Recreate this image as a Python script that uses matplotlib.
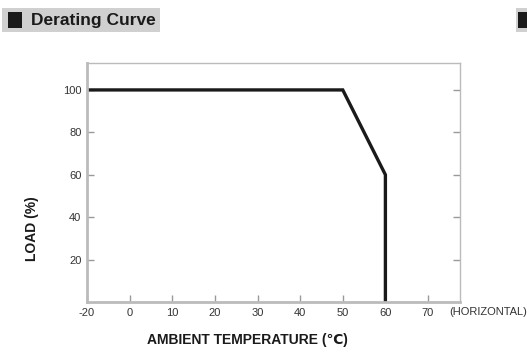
import numpy as np
import matplotlib.pyplot as plt
from matplotlib.patches import Rectangle

plt.rcParams['font.family'] = ['Liberation Sans', 'DejaVu Sans']
plt.rcParams['axes.unicode_minus'] = False

# derating curve data
temps = [-20, 50, 60, 60]
load = [100, 100, 60, 0]
x_ticks = [-20, 0, 10, 20, 30, 40, 50, 60, 70]
y_ticks = [20, 40, 60, 80, 100]


# the axis squeezes -20..0 into one 10-degree step
def fwd(x):
    x = np.asarray(x, dtype=float)
    return np.where(x < 0, x / 2, x)


def inv(x):
    x = np.asarray(x, dtype=float)
    return np.where(x < 0, x * 2, x)


fig = plt.figure(figsize=(5.27, 3.55), dpi=100)
fig.patch.set_facecolor('white')

# title bar
fig.patches.append(Rectangle((2 / 527, 1 - 32 / 355), 158 / 527, 24 / 355,
                             transform=fig.transFigure, facecolor='#d0d0d0', edgecolor='none'))
fig.patches.append(Rectangle((8 / 527, 1 - 28 / 355), 14 / 527, 16 / 355,
                             transform=fig.transFigure, facecolor='#1a1a1a', edgecolor='none'))
fig.text(31 / 527, 1 - 20 / 355, 'Derating Curve', fontsize=12.5, fontweight='bold',
         color='#1a1a1a', va='center', ha='left')

# cut-off box at right edge
fig.patches.append(Rectangle((516 / 527, 1 - 32 / 355), 11 / 527, 24 / 355,
                             transform=fig.transFigure, facecolor='#d0d0d0', edgecolor='none'))
fig.patches.append(Rectangle((518 / 527, 1 - 28 / 355), 9 / 527, 16 / 355,
                             transform=fig.transFigure, facecolor='#1a1a1a', edgecolor='none'))

ax = fig.add_axes([87 / 527, 53 / 355, 373 / 527, 239 / 355])
ax.set_xscale('function', functions=(fwd, inv))
ax.plot(temps, load, color='#1a1a1a', linewidth=2.4, solid_joinstyle='miter')
ax.set_xlim(-20, 77.5)
ax.set_ylim(0, 112.7)

ax.set_xticks(x_ticks)
ax.set_xticklabels([str(t) for t in x_ticks])
ax.set_yticks(y_ticks)
ax.set_yticklabels([str(t) for t in y_ticks])
ax.minorticks_off()
ax.tick_params(axis='both', direction='in', length=5, width=1, color='#999999',
               labelsize=8, labelcolor='#333333')
ax.tick_params(axis='y', right=True, pad=4)
ax.tick_params(axis='x', pad=4)

for name, sp in ax.spines.items():
    sp.set_color('#bbbbbb')
    sp.set_linewidth(1)
ax.spines['left'].set_linewidth(2)
ax.spines['bottom'].set_linewidth(2)

fig.text(247 / 527, 1 - 340 / 355, 'AMBIENT TEMPERATURE (\u2103)', fontsize=10,
         fontweight='bold', color='#1a1a1a', ha='center', va='center')
fig.text(32 / 527, 1 - 229 / 355, 'LOAD (%)', fontsize=10, fontweight='bold',
         color='#1a1a1a', ha='center', va='center', rotation=90)
fig.text(449 / 527, 1 - 312 / 355, '(HORIZONTAL)', fontsize=8, color='#333333',
         ha='left', va='center')

fig.savefig('out.png', dpi=100)
